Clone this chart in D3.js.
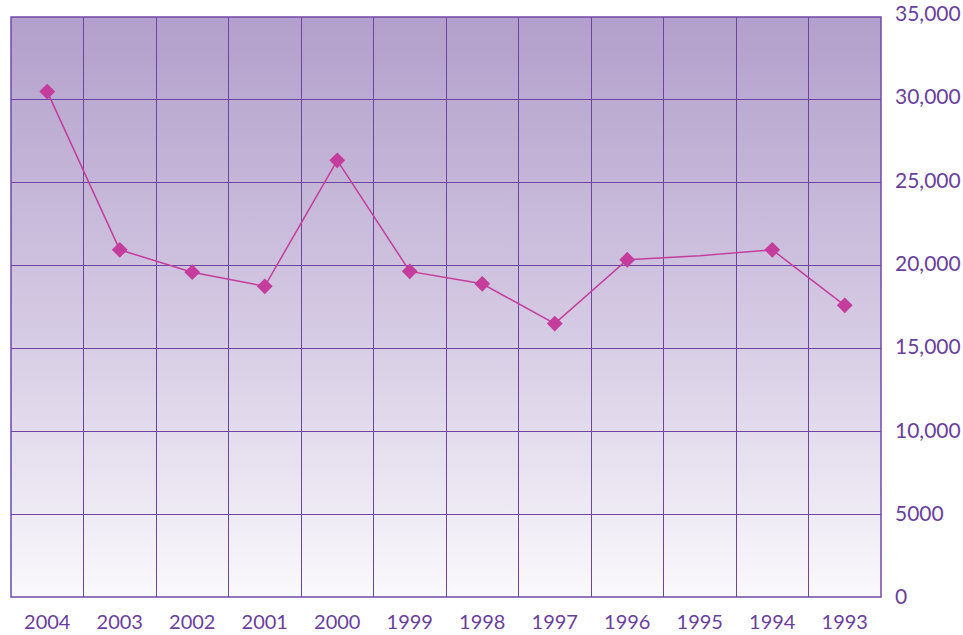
<!DOCTYPE html>
<html><head><meta charset="utf-8">
<script src="https://cdn.jsdelivr.net/npm/d3@7"></script>
<style>html,body{margin:0;padding:0;background:#fff;}</style>
</head><body>
<svg id="chart" width="963" height="635"></svg>
<script>
const categories = ["2004","2003","2002","2001","2000","1999","1998","1997","1996","1995","1994","1993"];
const values = [30500, 20950, 19600, 18750, 26350, 19650, 18900, 16500, 20350, 20600, 20950, 17600];
const showMarker = [true,true,true,true,true,true,true,true,true,false,true,true];
const yTicks = [0,5000,10000,15000,20000,25000,30000,35000];
const yTickLabels = ["0","5000","10,000","15,000","20,000","25,000","30,000","35,000"];

const svg = d3.select("#chart");
const m = {left: 11, top: 17, right: 881, bottom: 597};
const x = d3.scaleBand().domain(categories).range([m.left, m.right]).padding(0);
const y = d3.scaleLinear().domain([0, 35000]).range([m.bottom, m.top]);

const defs = svg.append("defs");
const g = defs.append("linearGradient").attr("id","bg").attr("x1",0).attr("y1",0).attr("x2",0).attr("y2",1);
g.append("stop").attr("offset","0%").attr("stop-color","#b29fcb");
g.append("stop").attr("offset","55%").attr("stop-color","#d6cbe4");
g.append("stop").attr("offset","100%").attr("stop-color","#faf9fc");

svg.append("rect").attr("x",m.left).attr("y",m.top).attr("width",m.right-m.left).attr("height",m.bottom-m.top).attr("fill","url(#bg)");

const gridColor = "#6b45a0";
svg.append("g").selectAll("line").data(yTicks.slice(1,-1)).join("line")
  .attr("x1",m.left).attr("x2",m.right).attr("y1",d=>y(d)).attr("y2",d=>y(d))
  .attr("stroke",gridColor).attr("stroke-width",1).attr("shape-rendering","crispEdges");
svg.append("g").selectAll("line").data(categories.slice(1)).join("line")
  .attr("x1",d=>x(d)).attr("x2",d=>x(d)).attr("y1",m.top).attr("y2",m.bottom)
  .attr("stroke",gridColor).attr("stroke-width",1).attr("shape-rendering","crispEdges");
svg.append("rect").attr("x",m.left).attr("y",m.top).attr("width",m.right-m.left).attr("height",m.bottom-m.top)
  .attr("fill","none").attr("stroke","#7048a8").attr("stroke-width",1.5);

const yAxis = d3.axisRight(y).tickValues(yTicks).tickSize(0).tickPadding(14)
  .tickFormat((d,i)=>yTickLabels[i]);
const ya = svg.append("g").attr("transform",`translate(${m.right},0)`).call(yAxis);
ya.select(".domain").remove();
ya.selectAll("text").attr("font-family","Lato, sans-serif").attr("font-size","21px").attr("fill","#6a3f9c")
  .attr("dy", d => (0.32 - d/35000*0.15) + "em");

const xAxis = d3.axisBottom(x).tickSize(0).tickPadding(18);
const xa = svg.append("g").attr("transform",`translate(0,${m.bottom})`).call(xAxis);
xa.select(".domain").remove();
xa.selectAll("text").attr("font-family","Lato, sans-serif").attr("font-size","20px").attr("fill","#6a3f9c");

const data = categories.map((c,i)=>({c, v: values[i], show: showMarker[i]}));
const line = d3.line().x(d=>x(d.c)+x.bandwidth()/2).y(d=>y(d.v));
svg.append("path").datum(data).attr("d",line).attr("fill","none").attr("stroke","#c43c9c").attr("stroke-width",1.5);

svg.append("g").selectAll("path").data(data.filter(d=>d.show)).join("path")
  .attr("d", d3.symbol().type(d3.symbolSquare).size(125))
  .attr("transform", d=>`translate(${x(d.c)+x.bandwidth()/2},${y(d.v)}) rotate(45)`)
  .attr("fill","#c43c9c");
</script>
</body></html>
